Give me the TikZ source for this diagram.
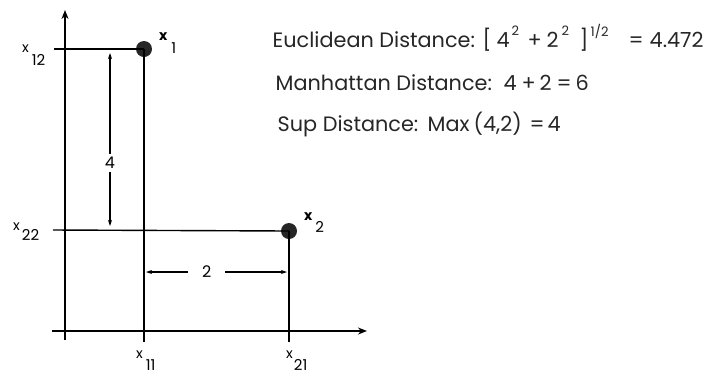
\documentclass[tikz,border=0pt]{standalone}
\usepackage{fontspec}
\setmainfont{Poppins}
\usetikzlibrary{arrows.meta}
\newcommand\placeat[2]{\makebox[0pt][l]{\hspace{#1pt}#2}}
\newcommand\supsz{\fontsize{13}{13}\selectfont}
\newcommand\xsz{\fontsize{14}{14}\selectfont}
\newcommand\subsz{\fontsize{15}{15}\selectfont}
\begin{document}
\begin{tikzpicture}[x=1pt,y=-1pt,
  axis/.style={line width=2.6pt,-{Stealth[length=9pt,width=7pt]}},
  guide/.style={line width=1.4pt},
  dim/.style={line width=1.2pt,{Stealth[length=6pt,width=4pt]}-{Stealth[length=6pt,width=4pt]}},
  pt/.style={circle,fill=black!85,inner sep=0pt,minimum size=16pt},
  lbl/.style={inner sep=0pt,anchor=base west},
  eq/.style={font=\fontsize{20.8}{24}\selectfont,inner sep=0pt,anchor=base west,text=black!85},
  dimlbl/.style={font=\fontsize{16}{18}\selectfont,fill=white,inner ysep=3pt}]
\useasboundingbox (0,0) rectangle (708,376);
% axes
\coordinate (ybot) at (65,340);
\coordinate (ytop) at (65,10);
\coordinate (xleft) at (52,331);
\coordinate (xright) at (367,331);
\draw[axis] (ybot) -- (ytop);
\draw[axis] (xleft) -- (xright);
% points
\node[pt] (p1) at (144,49) {};
\node[pt] (p2) at (289,231) {};
% guide lines
\coordinate (g12) at (54,49);
\coordinate (g22) at (53,230);
\coordinate (g11) at (144,342);
\coordinate (g21) at (289,342);
\draw[guide] (g12) -- (p1.center);
\draw[guide] (g22) -- (p2.center);
\draw[guide] (p1.center) -- (g11);
\draw[guide] (p2.center) -- (g21);
% dimension arrows
\coordinate (d4a) at (110,53);
\coordinate (d4b) at (110,226);
\draw[dim] (d4a) -- node[dimlbl,pos=0.636,inner xsep=2pt] (l4) {4} (d4b);
\coordinate (d2a) at (146,272);
\coordinate (d2b) at (287,272);
\draw[dim] (d2a) -- node[dimlbl,pos=0.43,inner xsep=14pt] (l2) {2} (d2b);
% point labels
\node[lbl] (x1) at (159,40) {{\xsz\bfseries x}\hspace{4pt}\raisebox{-13pt}{\subsz 1}};
\node[lbl] (x2) at (304,220) {{\xsz\bfseries x}\hspace{3pt}\raisebox{-12pt}{\subsz 2}};
% axis labels
\node[lbl] (x12) at (22,52) {{\xsz x}\hspace{3pt}\raisebox{-13pt}{\subsz 12}};
\node[lbl] (x22) at (13,230) {{\xsz x}\hspace{2pt}\raisebox{-10pt}{\subsz 22}};
\node[lbl] (x11) at (136,358) {{\xsz x}\hspace{3pt}\raisebox{-12pt}{\subsz 11}};
\node[lbl] (x21) at (286,358) {{\xsz x}\hspace{1pt}\raisebox{-12pt}{\subsz 21}};
% equations
\node[eq] (euc) at (272,47) {\placeat{0}{Euclidean Distance:}\placeat{210}{[}\placeat{224}{4}\placeat{239}{\raisebox{12pt}{\supsz 2}}\placeat{255}{+}\placeat{274}{2}\placeat{289}{\raisebox{12pt}{\supsz 2}}\placeat{307}{]}\placeat{318}{\raisebox{11pt}{\supsz 1/2}}\placeat{356}{=}\placeat{377}{4.472}};
\node[eq] (man) at (275,90) {\placeat{0}{Manhattan Distance:}\placeat{228}{4}\placeat{246}{+}\placeat{264}{2}\placeat{281}{=}\placeat{300}{6}};
\node[eq] (sup) at (277,131) {\placeat{0}{Sup Distance:}\placeat{150}{Max}\placeat{196}{(4,2)}\placeat{252}{=}\placeat{270}{4}};
\end{tikzpicture}
\end{document}
